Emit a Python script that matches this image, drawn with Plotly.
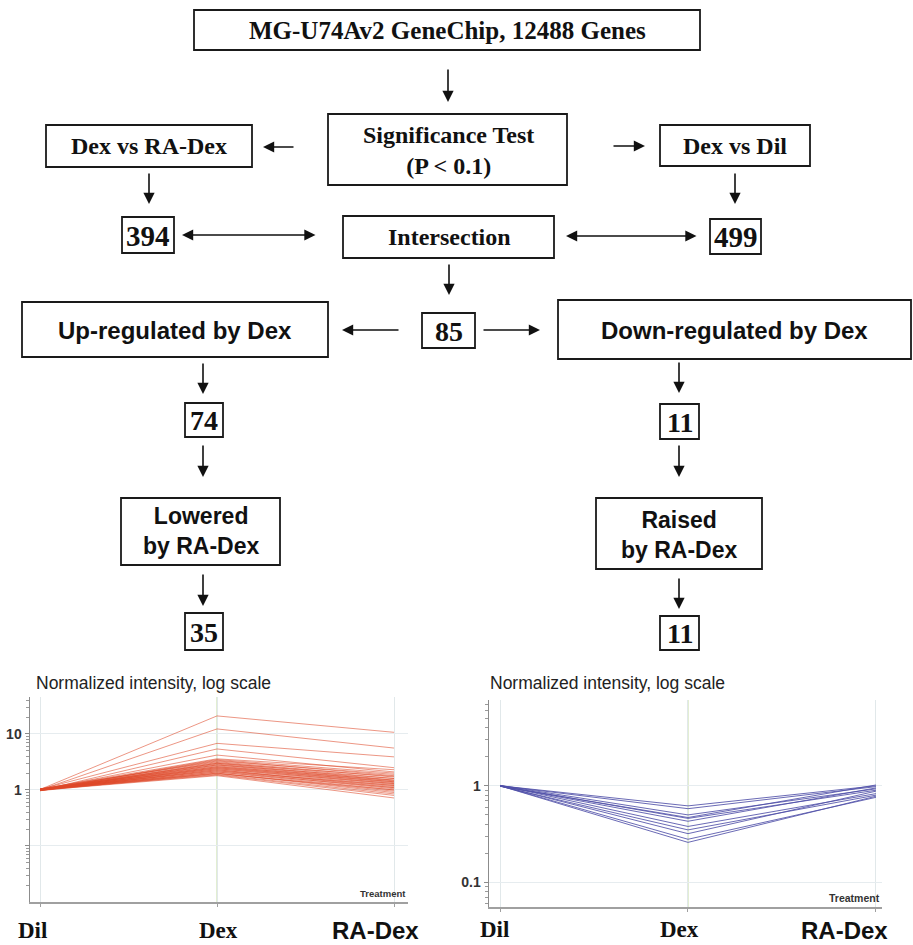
import plotly.graph_objects as go

# ---------------- data ----------------
treatments = ["Dil", "Dex", "RA-Dex"]

# 35 genes up-regulated by Dex and lowered by RA-Dex (normalized intensity)
up_dil = [1.02, 1.0, 1.03, 0.98, 1.01, 1.04, 1.0, 0.99, 1.02, 1.05, 1.0, 0.97, 1.01, 1.03, 0.99,
          1.0, 1.02, 0.98, 1.04, 1.01, 1.0, 0.99, 1.03, 1.0, 0.98, 1.02, 1.01, 0.99, 1.0, 1.03,
          0.97, 1.02, 1.0, 1.01, 0.99]
up_dex = [21, 12.3, 6.8, 5.4, 4.2, 3.6, 3.5, 3.4, 3.3, 3.2, 3.1, 3.0, 3.0, 2.9, 2.8,
          2.8, 2.7, 2.6, 2.6, 2.5, 2.5, 2.4, 2.4, 2.3, 2.3, 2.2, 2.2, 2.1, 2.1, 2.0,
          2.0, 1.95, 1.9, 1.85, 1.8]
up_radex = [10.7, 5.6, 3.9, 2.5, 2.1, 2.3, 2.0, 1.8, 1.9, 1.7, 1.6, 1.75, 1.5, 1.45, 1.6,
            1.4, 1.35, 1.5, 1.3, 1.25, 1.4, 1.2, 1.3, 1.15, 1.1, 1.2, 1.05, 1.0, 1.1, 0.95,
            0.9, 1.0, 0.85, 0.8, 0.72]

# 11 genes down-regulated by Dex and raised by RA-Dex
down_dil = [1.0, 1.0, 1.01, 0.99, 1.0, 1.0, 1.01, 0.99, 1.0, 1.0, 1.0]
down_dex = [0.62, 0.58, 0.50, 0.47, 0.46, 0.43, 0.38, 0.35, 0.32, 0.28, 0.26]
down_radex = [1.0, 0.98, 0.93, 1.02, 0.90, 0.95, 0.83, 0.80, 0.88, 0.76, 0.78]

left_ticks = [0.1, 1, 10]
left_ticktext = ["", "1", "10"]
right_ticks = [0.1, 1]
right_ticktext = ["0.1", "1"]
minor_ticks = [m * 10.0 ** k for k in range(-2, 2) for m in range(2, 10)]

# ---------------- layout helpers ----------------
W, H = 913, 945


def PX(x):
    return x / W


def PY(y):
    return 1 - y / H


SERIF = "Liberation Serif, Times New Roman, serif"
SANS = "Liberation Sans, Arial, Helvetica, sans-serif"

fig = go.Figure()

# line traces
for i in range(len(up_dex)):
    fig.add_trace(go.Scatter(
        x=treatments, y=[up_dil[i], up_dex[i], up_radex[i]], mode="lines",
        line=dict(color="rgba(222,72,40,0.68)", width=0.85),
        xaxis="x", yaxis="y", hoverinfo="skip", showlegend=False))
for i in range(len(down_dex)):
    fig.add_trace(go.Scatter(
        x=treatments, y=[down_dil[i], down_dex[i], down_radex[i]], mode="lines",
        line=dict(color="rgba(80,80,168,0.85)", width=1.0),
        xaxis="x2", yaxis="y2", hoverinfo="skip", showlegend=False))

# ---------------- flowchart ----------------
boxes = [
    (194, 10, 700, 50), (328, 114, 567, 185), (46, 125, 252, 167), (660, 125, 810, 166),
    (122, 217, 174, 253), (343, 216, 554, 258), (710, 219, 761, 254),
    (22, 302, 328, 357), (422, 313, 475, 348), (558, 300, 911, 359),
    (185, 403, 223, 437), (660, 404, 699, 439),
    (121, 498, 280, 565), (596, 498, 762, 569),
    (185, 613, 223, 650), (660, 616, 699, 650),
]
shapes = []
for (x0, y0, x1, y1) in boxes:
    shapes.append(dict(type="rect", xref="paper", yref="paper",
                       x0=PX(x0), x1=PX(x1), y0=PY(y1), y1=PY(y0),
                       line=dict(color="#1a1a1a", width=1.8), fillcolor="white", layer="above"))

labels = [
    # (cx, cy, text, family, size)
    (447, 30, "MG-U74Av2 GeneChip, 12488 Genes", SERIF, 25),
    (448, 150, "Significance Test<br>(P &lt; 0.1)", SERIF, 24),
    (149, 146, "Dex vs RA-Dex", SERIF, 24),
    (735, 146, "Dex vs Dil", SERIF, 24),
    (148, 236, "394", SERIF, 29),
    (449, 237, "Intersection", SERIF, 24),
    (736, 237, "499", SERIF, 29),
    (175, 330, "Up-regulated by Dex", SANS, 24),
    (449, 331, "85", SERIF, 28),
    (734, 330, "Down-regulated by Dex", SANS, 24),
    (204, 420, "74", SERIF, 28),
    (680, 422, "11", SERIF, 28),
    (201, 531, "Lowered<br>by RA-Dex", SANS, 23),
    (679, 535, "Raised<br>by RA-Dex", SANS, 23),
    (204, 632, "35", SERIF, 28),
    (680, 633, "11", SERIF, 28),
]
annotations = []
for (cx, cy, t, fam, sz) in labels:
    annotations.append(dict(x=PX(cx), y=PY(cy), xref="paper", yref="paper", text=t,
                            showarrow=False, xanchor="center", yanchor="middle",
                            font=dict(family=fam, size=sz, color="#111", weight="bold")))


def arrow(hx, hy, tx, ty, both=False):
    return dict(x=PX(hx), y=PY(hy), xref="paper", yref="paper",
                ax=tx - hx, ay=ty - hy, axref="pixel", ayref="pixel",
                text="", showarrow=True, arrowhead=2, arrowsize=1.4, arrowwidth=1.6,
                arrowcolor="#111", standoff=0, startstandoff=0,
                arrowside="end+start" if both else "end",
                startarrowhead=2, startarrowsize=1.4)


arrows = [
    (448, 102, 448, 68, False), (263, 147, 295, 147, False), (645, 146, 612, 146, False),
    (149, 204, 149, 172, False), (735, 204, 735, 172, False),
    (182, 235, 317, 235, True), (566, 236, 698, 236, True),
    (449, 295, 449, 263, False), (342, 330, 400, 330, False), (540, 330, 482, 330, False),
    (203, 394, 203, 362, False), (679, 393, 679, 361, False),
    (203, 477, 203, 444, False), (679, 477, 679, 444, False),
    (203, 606, 203, 573, False), (679, 609, 679, 577, False),
]
for a in arrows:
    annotations.append(arrow(*a))

# ---------------- chart decorations ----------------
for xa, ya, x_title in (("x", "y", 34), ("x2", "y2", 488)):
    annotations.append(dict(x=PX(x_title), y=PY(683), xref="paper", yref="paper",
                            text="Normalized intensity, log scale", showarrow=False,
                            xanchor="left", yanchor="middle",
                            font=dict(family=SANS, size=17.5, color="#222")))
    annotations.append(dict(x=1, y=0, xref=xa + " domain", yref=ya + " domain",
                            text="Treatment", showarrow=False, xanchor="right", yanchor="bottom",
                            yshift=1, font=dict(family=SANS, size=9.5 if xa == "x" else 10.5,
                                                color="#333", weight="bold")))
    # green vertical grid line at Dex
    shapes.append(dict(type="line", xref=xa, yref=ya + " domain",
                       x0=treatments.index("Dex"), x1=treatments.index("Dex"), y0=0, y1=1,
                       line=dict(color="#cfe2b4", width=1.2), layer="below"))

# bottom treatment labels (anchored at their bottom edge)
bottom = [
    ("x", "Dil", -8, 944, SERIF, 23), ("x", "Dex", 1, 944, SERIF, 23), ("x", "RA-Dex", -19, 945, SANS, 24),
    ("x2", "Dil", -6, 943, SERIF, 23), ("x2", "Dex", -8, 943, SERIF, 23), ("x2", "RA-Dex", -31, 945, SANS, 24),
]
for xa, t, shift, by, fam, sz in bottom:
    annotations.append(dict(x=t, y=PY(by), xref=xa, yref="paper", text=t, showarrow=False,
                            xanchor="center", yanchor="bottom", xshift=shift, borderpad=0,
                            font=dict(family=fam, size=sz, color="#111", weight="bold")))

xaxis_common = dict(type="category", showticklabels=False, showgrid=True, gridcolor="#e1e8ea",
                    gridwidth=1, zeroline=False, showline=True, linecolor="#a0a0a0", linewidth=2,
                    ticks="outside", ticklen=3, tickcolor="#a0a0a0", fixedrange=True,
                    categoryorder="array", categoryarray=treatments)
yaxis_common = dict(type="log", tickmode="array", showgrid=True, gridcolor="#e6ecef", gridwidth=1,
                    zeroline=False, showline=True, linecolor="#8c8c8c", linewidth=1.5,
                    ticks="outside", ticklen=4, tickcolor="#8c8c8c",
                    tickfont=dict(family=SANS, size=14, color="#333", weight="bold"),
                    minor=dict(tickmode="array", tickvals=minor_ticks, ticks="outside",
                               ticklen=2.5, tickcolor="#9a9a9a", showgrid=False),
                    fixedrange=True)

fig.update_layout(
    width=W, height=H, margin=dict(l=0, r=0, t=0, b=0),
    paper_bgcolor="white", plot_bgcolor="white", showlegend=False,
    xaxis=dict(xaxis_common, domain=[PX(30), PX(408)], range=[-0.0565, 2.079], anchor="y"),
    yaxis=dict(yaxis_common, domain=[PY(902), PY(697)], range=[-2.0, 1.66],
               tickvals=left_ticks, ticktext=left_ticktext, anchor="x"),
    xaxis2=dict(xaxis_common, domain=[PX(489), PX(882)], range=[-0.0585, 2.032], anchor="y2"),
    yaxis2=dict(yaxis_common, domain=[PY(907), PY(700)], range=[-1.253, 0.887],
                tickvals=right_ticks, ticktext=right_ticktext, anchor="x2"),
    shapes=shapes, annotations=annotations,
)

fig.write_html("out.html", config={"displayModeBar": False, "staticPlot": True},
               post_script="document.body.style.margin='0';document.body.style.padding='0';")
